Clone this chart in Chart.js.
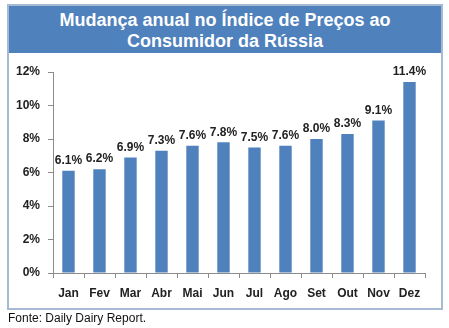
<!DOCTYPE html>
<html>
<head>
<meta charset="utf-8">
<script src="https://cdn.jsdelivr.net/npm/chart.js@4"></script>
<style>
    body { margin: 0; width: 449px; height: 328px; background: #fff; position: relative; overflow: hidden; font-family: "Liberation Sans", Arial, sans-serif; }
    #box { position: absolute; left: 7px; top: 4px; width: 432px; height: 302px; border: 2px solid #a7bad3; }
    #title { position: absolute; left: 0; top: 0; right: 0; height: 47px; background: #4f81bd; color: #fff;
             font-weight: bold; font-size: 18px; line-height: 21px; text-align: center; padding-top: 4px; box-sizing: border-box; }
    #chart { position: absolute; left: 0; top: 0; }
    #source { position: absolute; left: 8px; top: 311px; font-size: 12px; color: #111; }
</style>
</head>
<body>
<div id="box"><div id="title">Mudança anual no Índice de Preços ao<br>Consumidor da Rússia</div></div>
<canvas id="chart" width="449" height="328"></canvas>
<div id="source">Fonte: Daily Dairy Report.</div>
<script>
// Données
const months = ['Jan', 'Fev', 'Mar', 'Abr', 'Mai', 'Jun', 'Jul', 'Ago', 'Set', 'Out', 'Nov', 'Dez'];
const cpiChange = [6.1, 6.2, 6.9, 7.3, 7.6, 7.8, 7.5, 7.6, 8.0, 8.3, 9.1, 11.4];
const yTicks = [0, 2, 4, 6, 8, 10, 12];

const tickFont = { family: '"Liberation Sans", Arial, sans-serif', size: 12, weight: 'bold' };

// Étiquettes de valeur au-dessus des barres
const valueLabels = {
    id: 'valueLabels',
    afterDatasetsDraw(chart) {
        const ctx = chart.ctx;
        const meta = chart.getDatasetMeta(0);
        ctx.save();
        ctx.font = 'bold 12px "Liberation Sans", Arial, sans-serif';
        ctx.fillStyle = '#222';
        ctx.textAlign = 'center';
        ctx.textBaseline = 'bottom';
        meta.data.forEach((bar, i) => {
            ctx.fillText(cpiChange[i].toFixed(1) + '%', bar.x, bar.y - 4);
        });
        ctx.restore();
    }
};

new Chart(document.getElementById('chart'), {
    type: 'bar',
    data: {
        labels: months,
        datasets: [{
            data: cpiChange,
            backgroundColor: '#4f81bd',
            barPercentage: 0.4,
            categoryPercentage: 1
        }]
    },
    options: {
        responsive: false,
        animation: false,
        layout: { padding: { left: 0, right: 24, top: 72, bottom: 25 } },
        plugins: {
            legend: { display: false },
            tooltip: { enabled: false },
            title: { display: false }
        },
        scales: {
            x: {
                offset: true,
                grid: { offset: true, drawOnChartArea: false, drawTicks: true, tickLength: 5, color: '#8c8c8c' },
                border: { color: '#8c8c8c' },
                ticks: { color: '#222', font: tickFont, padding: 8, maxRotation: 0 },
                afterFit: s => { s.height = 30; }
            },
            y: {
                min: 0,
                max: 12,
                afterBuildTicks: s => { s.ticks = yTicks.map(v => ({ value: v })); },
                grid: { drawOnChartArea: false, drawTicks: true, tickLength: 5, color: '#8c8c8c' },
                border: { color: '#8c8c8c' },
                ticks: { color: '#222', font: tickFont, padding: 8, callback: v => v + '%' },
                afterFit: s => { s.width = 53; }
            }
        }
    },
    plugins: [valueLabels]
});
</script>
</body>
</html>
